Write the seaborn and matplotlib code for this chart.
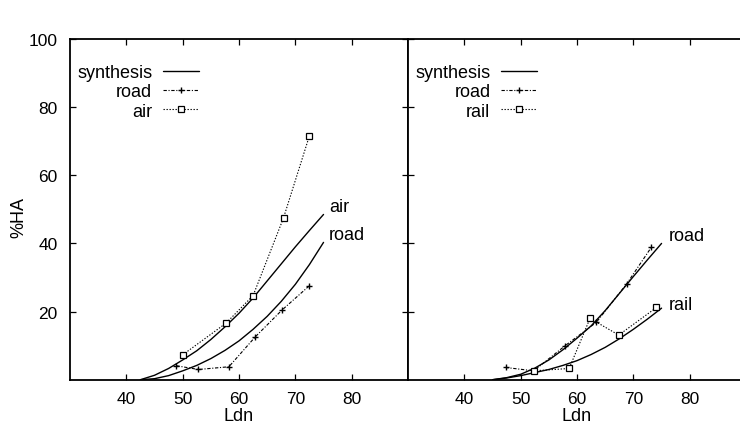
import matplotlib
matplotlib.use("Agg")
import matplotlib.pyplot as plt
import seaborn as sns

# left panel: air vs road
air_x = [50.0, 57.7, 62.5, 67.9, 72.5]
air_y = [7.3, 16.6, 24.7, 47.5, 71.6]
road_left_x = [48.9, 52.8, 58.2, 62.9, 67.6, 72.5]
road_left_y = [4.1, 3.0, 3.8, 12.6, 20.4, 27.6]

# right panel: rail vs road
road_right_x = [47.3, 52.3, 57.9, 63.4, 68.8, 73.2]
road_right_y = [3.6, 2.6, 10.0, 16.8, 28.1, 38.9]
rail_x = [52.3, 58.6, 62.3, 67.4, 74.1]
rail_y = [2.6, 3.3, 18.0, 13.1, 21.2]

# synthesis curves
syn_left_x = [42.5, 45, 47.5, 50, 52.5, 55, 57.5, 60, 62.5, 65, 67.5, 70, 72.5, 75]
syn_air = [0, 1.3, 3.3, 5.8, 8.5, 11.8, 15.5, 19.5, 24.0, 29.0, 34.0, 39.0, 43.8, 48.5]
syn_road_left = [0, 0.3, 1.2, 2.6, 4.2, 6.2, 8.6, 11.4, 14.8, 18.6, 23.0, 28.0, 33.8, 40.3]
syn_right_x = [45, 47.5, 50, 52.5, 55, 57.5, 60, 62.5, 65, 67.5, 70, 72.5, 75]
syn_road_right = [0, 0.6, 1.6, 3.4, 5.8, 8.8, 12.2, 15.8, 20.3, 25.3, 30.3, 35.2, 40.0]
syn_rail = [0, 0.5, 1.2, 2.1, 3.0, 4.2, 5.6, 7.4, 9.5, 12.0, 14.8, 17.8, 21.0]

x_ticks = [40, 50, 60, 70, 80]
y_ticks = [20, 40, 60, 80, 100]

sns.set_style("ticks")
plt.rcParams["font.family"] = ["Liberation Sans", "DejaVu Sans"]
plt.rcParams["font.size"] = 13
for key in ["text.color", "axes.labelcolor", "xtick.color", "ytick.color",
            "axes.edgecolor"]:
    plt.rcParams[key] = "black"

fig = plt.figure(figsize=(7.4, 4.27), dpi=100)
ax1 = fig.add_axes([0.0946, 0.1084, 0.4568, 0.798])
ax2 = fig.add_axes([0.5514, 0.1084, 0.4568, 0.798])

road_style = dict(color="black", lw=0.8, linestyle=(0, (3, 1.5, 1, 1.5)),
                  marker="+", markersize=5, markeredgewidth=1,
                  markeredgecolor="black")
dot_style = dict(color="black", lw=0.8, linestyle=(0, (1.2, 1.5)),
                 marker="s", markersize=4.2, markerfacecolor="white",
                 markeredgecolor="black", markeredgewidth=0.9)
syn_style = dict(color="black", lw=1.0)

# left
sns.lineplot(x=syn_left_x, y=syn_air, ax=ax1, label="synthesis", **syn_style)
sns.lineplot(x=syn_left_x, y=syn_road_left, ax=ax1, **syn_style)
sns.lineplot(x=road_left_x, y=road_left_y, ax=ax1, label="road", **road_style)
sns.lineplot(x=air_x, y=air_y, ax=ax1, label="air", **dot_style)
ax1.text(76, 50.8, "air", va="center", ha="left")
ax1.text(76, 42.6, "road", va="center", ha="left")

# right
sns.lineplot(x=syn_right_x, y=syn_road_right, ax=ax2, label="synthesis", **syn_style)
sns.lineplot(x=syn_right_x, y=syn_rail, ax=ax2, **syn_style)
sns.lineplot(x=road_right_x, y=road_right_y, ax=ax2, label="road", **road_style)
sns.lineplot(x=rail_x, y=rail_y, ax=ax2, label="rail", **dot_style)
ax2.text(76.2, 42.3, "road", va="center", ha="left")
ax2.text(76.2, 22.2, "rail", va="center", ha="left")

for ax in (ax1, ax2):
    ax.set_xlim(30, 90)
    ax.set_ylim(0, 100)
    ax.set_xticks(x_ticks)
    ax.set_yticks(y_ticks)
    ax.tick_params(direction="in", top=True, right=True, length=4,
                   width=0.9, labelsize=12.5)
    ax.tick_params(axis="x", pad=8)
    ax.tick_params(axis="y", pad=9)
    for sp in ax.spines.values():
        sp.set_linewidth(1.3)
        sp.set_visible(True)
    ax.set_xlabel("Ldn", fontsize=13, labelpad=1)
    ax.legend(loc="upper left", bbox_to_anchor=(0.0, 0.947), frameon=False,
              markerfirst=False, handlelength=2.0, handletextpad=0.6,
              labelspacing=0.12, fontsize=13, borderaxespad=0.0)

ax1.set_ylabel("%HA", fontsize=13)
ax1.yaxis.set_label_coords(-0.125, 0.48)
ax2.set_ylabel("")
ax2.tick_params(labelleft=False, right=False)

fig.savefig("out.png", dpi=100)
